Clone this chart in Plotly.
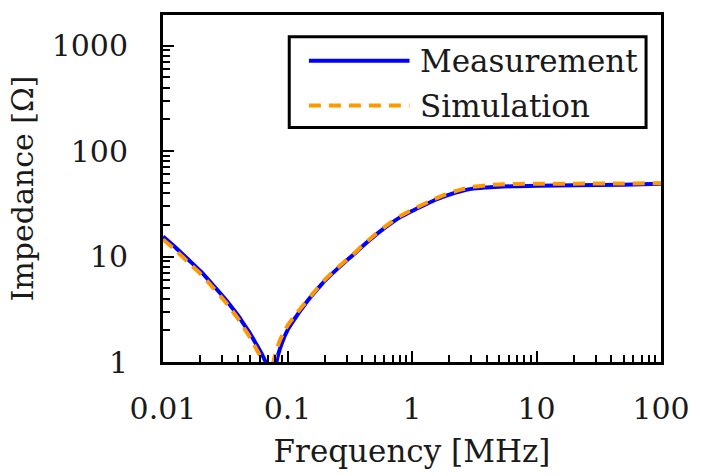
import plotly.graph_objects as go

# Impedance vs frequency: measured and simulated curves
meas_freq_mhz = [0.01, 0.0126, 0.0158, 0.02, 0.0251, 0.0316, 0.0355, 0.0398, 0.0447, 0.0501,
                 0.0562, 0.0631, 0.0676, 0.072, 0.076, 0.079, 0.0815, 0.09, 0.101,
                 0.12, 0.135, 0.155, 0.175, 0.2, 0.25, 0.3, 0.35, 0.4, 0.5,
                 0.6, 0.7, 0.8, 1.0, 1.2, 1.5, 1.8, 2.0, 2.5, 3.0, 4.0, 5.0, 7.0,
                 10, 20, 50, 100]
meas_impedance = [15.5, 12.2, 9.46, 7.26, 5.4, 3.95, 3.33, 2.79, 2.27, 1.86,
                  1.47, 1.15, 0.96, 0.6, 0.45, 0.65, 1.0, 1.5, 2.05,
                  2.8, 3.4, 4.2, 4.95, 5.9, 7.6, 9.2, 10.8, 12.5, 15.7,
                  18.6, 21.2, 23.5, 27.0, 30.0, 34.0, 37.0, 38.7, 41.8, 43.8, 45.2, 46.0, 46.4,
                  46.8, 47.4, 48.0, 49.0]

sim_freq_mhz = [0.01, 0.0126, 0.0158, 0.02, 0.0251, 0.0316, 0.0355, 0.0398, 0.0447, 0.0501,
                0.0562, 0.0631, 0.066, 0.07, 0.074, 0.077, 0.085, 0.093, 0.101,
                0.12, 0.135, 0.155, 0.175, 0.2, 0.25, 0.3, 0.35, 0.4, 0.5,
                0.6, 0.7, 0.8, 1.0, 1.2, 1.5, 1.8, 2.0, 2.5, 3.0, 4.0, 5.0, 7.0,
                10, 20, 50, 100]
sim_impedance = [14.5, 11.5, 8.9, 6.85, 5.1, 3.72, 3.12, 2.6, 2.1, 1.7,
                 1.33, 1.03, 0.85, 0.5, 0.7, 1.0, 1.5, 1.9, 2.25,
                 2.95, 3.5, 4.25, 5.05, 6.05, 7.75, 9.35, 10.95, 12.7, 16.0,
                 19.0, 21.7, 24.1, 27.7, 30.8, 34.9, 38.2, 40.0, 43.3, 45.6, 47.4, 48.2, 48.8,
                 49.0, 49.1, 49.3, 49.5]

x_major = [0.01, 0.1, 1, 10, 100]
x_labels = ["0.01", "0.1", "1", "10", "100"]
y_major = [1, 10, 100, 1000]
y_labels = ["1", "10", "100", "1000"]

series_names = ["Measurement", "Simulation"]
series_colors = ["#0000FF", "#FF9900"]

FONT = "DejaVu Serif"
TEXT_COLOR = "#1a1a1a"
x_minor = [m * d for d in [0.01, 0.1, 1, 10] for m in range(2, 10)]
y_minor = [m * d for d in [1, 10, 100] for m in range(2, 10)]

fig = go.Figure()
fig.add_trace(go.Scatter(x=meas_freq_mhz, y=meas_impedance, mode="lines",
                         name=series_names[0],
                         line=dict(color=series_colors[0], width=4, shape="spline", smoothing=0.8),
                         showlegend=False))
fig.add_trace(go.Scatter(x=sim_freq_mhz, y=sim_impedance, mode="lines",
                         name=series_names[1],
                         line=dict(color=series_colors[1], width=4, dash="12px,8px",
                                   shape="spline", smoothing=0.8),
                         showlegend=False))

axis_common = dict(
    type="log", showline=True, linecolor="black", linewidth=3, mirror=True,
    ticks="inside", ticklen=11, tickwidth=2, tickcolor="black",
    showgrid=False, zeroline=False,
    tickfont=dict(family=FONT, size=30, color=TEXT_COLOR),
)
fig.update_xaxes(
    **axis_common, range=[-2, 2], tickmode="array", tickvals=x_major, ticktext=x_labels,
    minor=dict(tickmode="array", tickvals=x_minor, ticks="inside", ticklen=7,
               tickwidth=2, tickcolor="black", showgrid=False),
    ticklabelstandoff=18,
    title=dict(text="Frequency [MHz]", font=dict(family=FONT, size=31, color=TEXT_COLOR), standoff=16),
)
fig.update_yaxes(
    **axis_common, range=[0, 3.29], tickmode="array", tickvals=y_major, ticktext=y_labels,
    minor=dict(tickmode="array", tickvals=y_minor, ticks="inside", ticklen=7,
               tickwidth=2, tickcolor="black", showgrid=False),
    ticklabelstandoff=26,
    title=dict(text="Impedance [Ω]", font=dict(family=FONT, size=30, color=TEXT_COLOR), standoff=10),
)

# Legend box drawn inside the plot frame
lg_x0, lg_x1, lg_y0, lg_y1 = 0.2535, 0.970, 0.676, 0.937
fig.add_shape(type="rect", xref="paper", yref="paper", x0=lg_x0, x1=lg_x1, y0=lg_y0, y1=lg_y1,
              line=dict(color="black", width=3), fillcolor="white", layer="above")
row_y = [0.868, 0.739]
for i, name in enumerate(series_names):
    fig.add_shape(type="line", xref="paper", yref="paper", x0=0.293, x1=0.495,
                  y0=row_y[i], y1=row_y[i], layer="above",
                  line=dict(color=series_colors[i], width=4,
                            dash="solid" if i == 0 else "12px,8px"))
    fig.add_annotation(xref="paper", yref="paper", x=0.513, y=row_y[i], text=name,
                       showarrow=False, xanchor="left", yanchor="middle",
                       font=dict(family=FONT, size=31, color=TEXT_COLOR))

fig.update_layout(
    width=702, height=476,
    margin=dict(l=163, r=34, t=14, b=113),
    paper_bgcolor="white", plot_bgcolor="white",
)

fig.write_html("out.html")
